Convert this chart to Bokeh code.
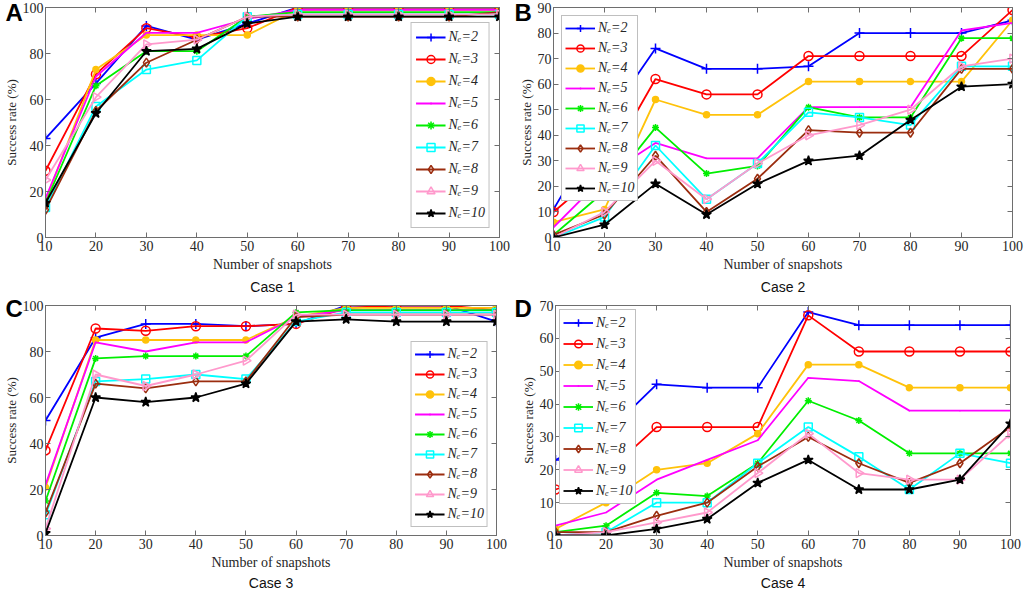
import numpy as np
from bokeh.plotting import figure
from bokeh.models import Range1d, Legend, LegendItem, Title, LinearAxis, FixedTicker
from bokeh.layouts import column, row
from bokeh.embed import file_html
from bokeh.resources import INLINE

snapshots = [10, 20, 30, 40, 50, 60, 70, 80, 90, 100]
series_labels = ["Nₑ=2", "Nₑ=3", "Nₑ=4", "Nₑ=5", "Nₑ=6", "Nₑ=7", "Nₑ=8", "Nₑ=9", "Nₑ=10"]

# Case 1 (panel A)
case1 = [
    [43, 67, 92, 86, 93, 100, 100, 100, 100, 100],
    [29, 71, 91, 87, 91, 100, 100, 100, 100, 100],
    [16, 73, 88, 88, 88, 99, 99, 99, 99, 99],
    [17, 70, 89, 89, 95, 99, 99, 99, 99, 99],
    [15, 66, 81, 81, 96, 98, 98, 98, 98, 98],
    [13, 57, 73, 77, 96, 97, 97, 97, 97, 97],
    [12, 55, 76, 86, 96, 96, 96, 96, 96, 98],
    [25, 61, 84, 86, 96, 97, 97, 97, 97, 97],
    [15, 54, 81, 82, 93, 96, 96, 96, 96, 96],
]
# Case 2 (panel B)
case2 = [
    [11, 45, 74, 66, 66, 67, 80, 80, 80, 85],
    [10, 27, 62, 56, 56, 71, 71, 71, 71, 89],
    [6, 11, 54, 48, 48, 61, 61, 61, 61, 85],
    [4, 24, 37, 31, 31, 51, 51, 51, 81, 84],
    [1, 18, 43, 25, 28, 51, 47, 47, 78, 78],
    [0, 8, 36, 15, 29, 49, 47, 44, 67, 67],
    [1, 9, 32, 10, 23, 42, 41, 41, 66, 66],
    [0, 10, 30, 15, 29, 40, 44, 50, 67, 70],
    [0, 5, 21, 9, 21, 30, 32, 46, 59, 60],
]
# Case 3 (panel C)
case3 = [
    [50, 86, 92, 92, 91, 92, 100, 100, 100, 93],
    [37, 90, 89, 91, 91, 92, 99, 100, 100, 98],
    [21, 85, 85, 85, 85, 95, 99, 99, 99, 99],
    [22, 84, 80, 84, 84, 95, 98, 98, 98, 98],
    [15, 77, 78, 78, 78, 97, 98, 98, 98, 98],
    [9, 67, 68, 70, 68, 93, 97, 97, 97, 97],
    [10, 66, 64, 67, 67, 95, 96, 96, 96, 96],
    [3, 70, 65, 70, 76, 96, 96, 96, 96, 96],
    [1, 60, 58, 60, 66, 93, 94, 93, 93, 93],
]
# Case 4 (panel D)
case4 = [
    [23, 31, 46, 45, 45, 68, 64, 64, 64, 64],
    [14, 19, 33, 33, 33, 67, 56, 56, 56, 56],
    [2, 10, 20, 22, 31, 52, 52, 45, 45, 45],
    [3, 7, 17, 23, 29, 48, 47, 38, 38, 38],
    [1, 3, 13, 12, 22, 41, 35, 25, 25, 25],
    [0, 1, 10, 10, 22, 33, 24, 14, 25, 22],
    [1, 1, 6, 10, 21, 30, 22, 16, 22, 33],
    [0, 1, 4, 7, 19, 31, 19, 17, 17, 31],
    [0, 0, 2, 5, 16, 23, 14, 14, 17, 34],
]

y_ticks_100 = [0, 20, 40, 60, 80, 100]
y_ticks_90 = [0, 10, 20, 30, 40, 50, 60, 70, 80, 90]
y_ticks_70 = [0, 10, 20, 30, 40, 50, 60, 70]

colors = ["#0000FF", "#FF0000", "#FFC20A", "#FF00FF", "#00EE00",
          "#00FFFF", "#9B2D0F", "#FF99CC", "#000000"]
markers = ["cross", "circle", "circle", "dot", "asterisk",
           "square", "diamond", "triangle", "star"]
sizes = [10, 9, 6, 6, 7, 8, 9, 9, 10]
filled = [False, False, True, True, False, False, False, False, True]
angles = [0, 0, 0, 0, 0, 0, 0, -np.pi / 2, 0]

SERIF = "Liberation Serif"
SANS = "Liberation Sans"
AX = "#6e6e6e"
TXT = "#262626"


def style_axis(ax, ticks, show_labels=True):
    ax.ticker = FixedTicker(ticks=ticks)
    ax.axis_line_color = AX
    ax.major_tick_line_color = AX
    ax.major_tick_in = 5
    ax.major_tick_out = 0
    ax.minor_tick_line_color = None
    ax.major_label_text_font = SERIF
    if show_labels:
        ax.major_label_text_color = TXT
        ax.major_label_text_font_size = "14px"
        ax.major_label_standoff = 3
    else:
        ax.major_label_text_color = None
        ax.major_label_text_font_size = "1px"
        ax.major_label_standoff = 0
    ax.axis_label_text_font = SERIF
    ax.axis_label_text_font_size = "14px"
    ax.axis_label_text_font_style = "normal"
    ax.axis_label_text_color = TXT
    ax.axis_label_standoff = 3


def make_panel(values, y_ticks, y_end, case_text, letter, borders, size,
               legend_loc, legend_margin, item_h, pad, case_standoff,
               letter_standoff):
    bl, br, bt, bb = borders
    w, h = size
    p = figure(width=w, height=h, output_backend="svg", toolbar_location=None,
               x_range=Range1d(10, 100), y_range=Range1d(0, y_end),
               min_border_left=bl, min_border_right=br,
               min_border_top=bt, min_border_bottom=bb)
    p.xgrid.visible = False
    p.ygrid.visible = False
    p.outline_line_color = AX
    p.background_fill_color = "white"
    p.border_fill_color = "white"
    style_axis(p.xaxis[0], snapshots)
    style_axis(p.yaxis[0], y_ticks)
    p.yaxis[0].major_label_standoff = 2
    p.yaxis[0].axis_label_standoff = 1
    p.yaxis[0].axis_label_text_font_size = "13px"
    p.xaxis[0].axis_label = "Number of snapshots"
    p.yaxis[0].axis_label = "Success rate (%)"
    ra = LinearAxis()
    style_axis(ra, y_ticks, show_labels=False)
    p.add_layout(ra, "right")
    ta = LinearAxis()
    style_axis(ta, snapshots, show_labels=False)
    p.add_layout(ta, "above")

    items = []
    for vals, lab, col, mk, sz, fl, an in zip(values, series_labels, colors,
                                              markers, sizes, filled, angles):
        lr = p.line(snapshots, vals, line_color=col, line_width=1.8)
        sr = p.scatter(snapshots, vals, marker=mk, size=sz, angle=an,
                       line_color=col, line_width=1.5,
                       fill_color=col if fl else None)
        items.append(LegendItem(label=lab, renderers=[lr, sr]))
    legend = Legend(items=items, location=legend_loc, margin=legend_margin,
                    padding=pad, spacing=2, glyph_width=30, glyph_height=item_h,
                    label_height=item_h, label_standoff=3,
                    label_text_font=SERIF, label_text_font_size="14px",
                    label_text_font_style="italic", label_text_color=TXT,
                    border_line_color="#7f7f7f", border_line_width=1,
                    background_fill_color="white", background_fill_alpha=1.0)
    p.add_layout(legend)

    p.add_layout(Title(text=case_text, align="center", text_font=SANS,
                       text_font_size="14px", text_font_style="normal",
                       text_color="#111111", standoff=case_standoff), "below")

    p.add_layout(Title(text=letter, align="left", offset=-(bl - 2),
                       vertical_align="bottom", standoff=letter_standoff,
                       text_font=SANS, text_font_size="24px",
                       text_font_style="bold", text_color="black"), "above")
    return p


pA = make_panel(case1, y_ticks_100, 100, "Case 1", "A", (42, 13, 7, 59), (512, 296),
                "bottom_right", 9, 20, 4, 4, -37)
pB = make_panel(case2, y_ticks_90, 90, "Case 2", "B", (41, 12, 7, 57), (512, 296),
                "top_left", 8, 18, 3, 4, -37)
pC = make_panel(case3, y_ticks_100, 100, "Case 3", "C", (42, 16, 9, 54), (512, 294),
                "bottom_right", 8, 18, 3, 0, -32)
pD = make_panel(case4, y_ticks_70, 70, "Case 4", "D", (43, 14, 6, 55), (512, 294),
                "top_left", 4, 19, 3, 0, -32)

layout = column(row(pA, pB), row(pC, pD))
open("out.html", "w").write(file_html(layout, INLINE))
